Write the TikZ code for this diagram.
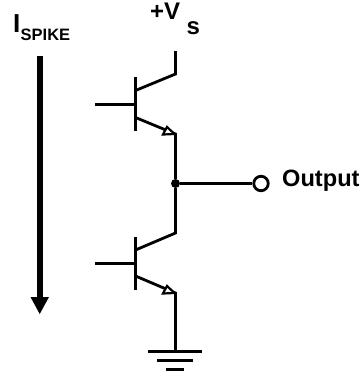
\documentclass[tikz,border=0pt]{standalone}
\usepackage{fontspec}
\setmainfont{Liberation Sans}
\begin{document}
\begin{tikzpicture}[x=1pt,y=-1pt,
  wire/.style={line width=2.8pt,line cap=butt,line join=miter},
  lab/.style={inner sep=0pt,anchor=base west,font=\bfseries},
  tri/.style={draw,line width=2.2pt,fill=white,line join=miter}]
\useasboundingbox (0,0) rectangle (362,373);
% coordinates
\coordinate (vs) at (175.5,51);
\coordinate (c1) at (175.5,74);
\coordinate (c1b) at (135.5,90.5);
\coordinate (b1a) at (95,104.5);
\coordinate (b1) at (135,104.5);
\coordinate (b1t) at (135.5,77);
\coordinate (b1d) at (135.5,131);
\coordinate (e1b) at (135.5,117.5);
\coordinate (e1) at (175.5,134);
\coordinate (c2) at (175.5,233);
\coordinate (c2b) at (135.5,250);
\coordinate (b2a) at (95,263.5);
\coordinate (b2) at (135,263.5);
\coordinate (b2t) at (135.5,237);
\coordinate (b2d) at (135.5,290);
\coordinate (e2b) at (135.5,276);
\coordinate (e2) at (175.5,293);
\coordinate (gnd) at (175.5,351);
\coordinate (g1a) at (148,351.5);\coordinate (g1b) at (201.5,351.5);
\coordinate (g2a) at (157,360.5);\coordinate (g2b) at (192.5,360.5);
\coordinate (g3a) at (166,369.5);\coordinate (g3b) at (183.5,369.5);
\node[circle,fill,inner sep=0pt,minimum size=9pt] (junc) at (175.5,183.5) {};
\node[circle,draw,line width=2.8pt,fill=white,inner sep=0pt,minimum size=14.5pt] (out) at (261,183.5) {};
% transistors
\draw[wire] (vs) -- (c1) -- (c1b);
\draw[wire] (b1a) -- (b1);
\draw[wire] (b1t) -- (b1d);
\draw[wire] (e1b) -- (e1) -- (junc);
\draw[wire] (junc) -- (c2) -- (c2b);
\draw[wire] (b2a) -- (b2);
\draw[wire] (b2t) -- (b2d);
\draw[wire] (e2b) -- (e2) -- (gnd);
\draw[wire] (junc) -- (out);
\draw[tri] (167,127) -- (163,134.5) -- (174.5,134) -- cycle;
\draw[tri] (167,286) -- (163,293.5) -- (174.5,293) -- cycle;
% ground
\draw[wire] (g1a) -- (g1b);
\draw[wire] (g2a) -- (g2b);
\draw[wire] (g3a) -- (g3b);
% current arrow
\coordinate (as) at (40,56);
\coordinate (ae) at (40,298);
\draw[line width=6.5pt] (as) -- (ae);
\fill (30.5,297) -- (49,297) -- (39.7,314) -- cycle;
% labels
\node[lab,font=\bfseries\fontsize{26}{26}\selectfont] (ilab) at (13,32) {I};
\node[lab,font=\bfseries\fontsize{16.5}{16.5}\selectfont] (spike) at (20.5,40) {SPIKE};
\node[lab,font=\bfseries\fontsize{24}{24}\selectfont] (v) at (150,19) {+V};
\node[lab,font=\bfseries\fontsize{24}{24}\selectfont] (s) at (186.5,34) {s};
\node[lab,font=\bfseries\fontsize{23.6}{23.6}\selectfont] (outl) at (282,186) {Output};
\end{tikzpicture}
\end{document}
